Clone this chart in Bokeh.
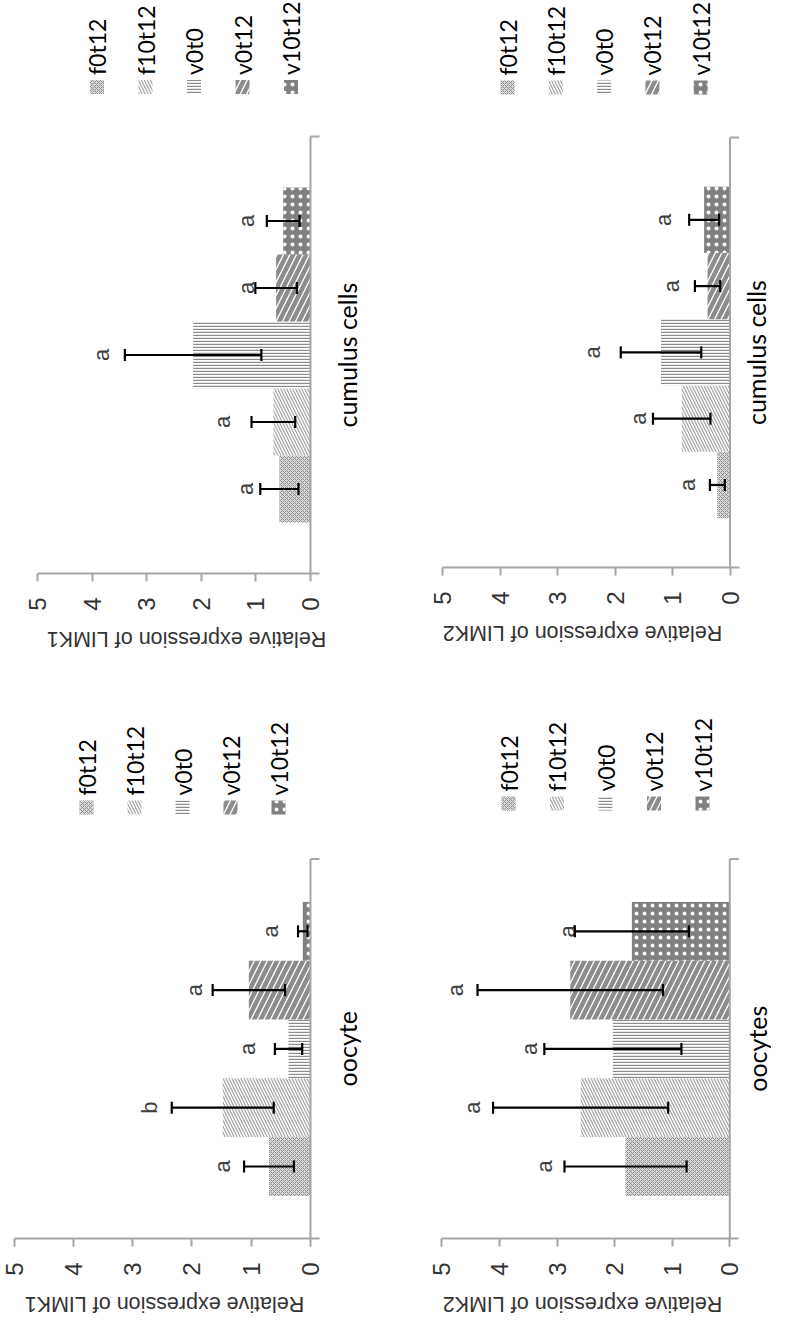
import math
from bokeh.plotting import figure
from bokeh.models import Range1d, FixedTicker, Whisker, TeeHead, ColumnDataSource
from bokeh.layouts import column, row
from bokeh.embed import file_html
from bokeh.resources import INLINE
from bokeh.core.properties import value

# ---------------- data ----------------
categories = ["f0t12", "f10t12", "v0t0", "v0t12", "v10t12"]
value_ticks = [0, 1, 2, 3, 4, 5]

cumulus_limk1_mean = [0.57, 0.68, 2.15, 0.63, 0.50]
cumulus_limk1_err = [0.35, 0.40, 1.25, 0.38, 0.30]
cumulus_limk1_letters = ["a", "a", "a", "a", "a"]
cumulus_limk1_letter_at = [1.19, 1.61, 3.83, 1.17, 1.17]

cumulus_limk2_mean = [0.22, 0.84, 1.20, 0.39, 0.45]
cumulus_limk2_err = [0.13, 0.50, 0.70, 0.22, 0.26]
cumulus_limk2_letters = ["a", "a", "a", "a", "a"]
cumulus_limk2_letter_at = [0.74, 1.60, 2.40, 1.02, 1.15]

oocyte_limk1_mean = [0.70, 1.48, 0.37, 1.04, 0.13]
oocyte_limk1_err = [0.42, 0.86, 0.23, 0.61, 0.08]
oocyte_limk1_letters = ["a", "b", "a", "a", "a"]
oocyte_limk1_letter_at = [1.48, 2.72, 1.06, 1.95, 0.67]

oocytes_limk2_mean = [1.81, 2.59, 2.03, 2.77, 1.70]
oocytes_limk2_err = [1.06, 1.52, 1.19, 1.61, 0.99]
oocytes_limk2_letters = ["a", "a", "a", "a", "a"]
oocytes_limk2_letter_at = [3.21, 4.46, 3.48, 4.76, 2.81]

# ---------------- styles ----------------
styles = [
    dict(fill_color="#d9d9d9", hatch_pattern="diagonal_cross", hatch_color="#8f8f8f",
         hatch_scale=4, hatch_weight=1),
    dict(fill_color="white", hatch_pattern="left_diagonal_line", hatch_color="#a8a8a8",
         hatch_scale=6, hatch_weight=1.3),
    dict(fill_color="white", hatch_pattern="horizontal_line", hatch_color="#8c8c8c",
         hatch_scale=3, hatch_weight=1.4),
    dict(fill_color="white", hatch_pattern="right_diagonal_line", hatch_color="#8c8c8c",
         hatch_scale=13, hatch_weight=4.5),
    dict(fill_color="#808080", hatch_pattern="dot", hatch_color="white",
         hatch_scale=8, hatch_weight=2),
]

AXIS_GRAY = "#a6a6a6"
TEXT_GRAY = "#333333"
AXIS_AREA = 48      # px below the value axis line kept in the chart figure
TITLE_GAP = 65      # px from value axis line to the centre of the axis title

panels = [
    dict(mean=cumulus_limk1_mean, err=cumulus_limk1_err, letters=cumulus_limk1_letters,
         letter_at=cumulus_limk1_letter_at, group="cumulus cells", gene="LIMK1",
         ox=8, oy=8, w=392, h=661, X0=318, ux=54.6, Yc0=496.5, uy=67.0, gap=0.76,
         leg_x0=104.5, leg_dx=48.5, leg_y=94.5, group_x=354.5, title_x=194),
    dict(mean=cumulus_limk2_mean, err=cumulus_limk2_err, letters=cumulus_limk2_letters,
         letter_at=cumulus_limk2_letter_at, group="cumulus cells", gene="LIMK2",
         ox=400, oy=8, w=379, h=661, X0=737.5, ux=57.5, Yc0=492.5, uy=66.3, gap=0.74,
         leg_x0=515, leg_dx=48.3, leg_y=95, group_x=763, title_x=590),
    dict(mean=oocyte_limk1_mean, err=oocyte_limk1_err, letters=oocyte_limk1_letters,
         letter_at=oocyte_limk1_letter_at, group="oocyte", gene="LIMK1",
         ox=8, oy=669, w=392, h=661, X0=318, ux=59.3, Yc0=1174, uy=58.8, gap=0.73,
         leg_x0=94, leg_dx=48, leg_y=815, group_x=354.5, title_x=172),
    dict(mean=oocytes_limk2_mean, err=oocytes_limk2_err, letters=oocytes_limk2_letters,
         letter_at=oocytes_limk2_letter_at, group="oocytes", gene="LIMK2",
         ox=400, oy=669, w=379, h=661, X0=737.3, ux=57.6, Yc0=1174, uy=58.8, gap=0.73,
         leg_x0=516, leg_dx=48.5, leg_y=811, group_x=764, title_x=590),
]


def build(pd):
    ox, oy, W, H = pd["ox"], pd["oy"], pd["w"], pd["h"]
    ux, uy, g = pd["ux"], pd["uy"], pd["gap"]
    X0c = pd["X0"] - ox
    Yc0c = pd["Yc0"] - oy
    F = int(round(Yc0c + (0.5 + g) * uy))     # frame height = canvas y of value axis
    Hm = F + AXIS_AREA                         # chart figure height
    Ht = H - Hm                                # title strip height
    xl = X0c / ux
    xr = (X0c - W) / ux
    yt = Yc0c / uy
    yb = (Yc0c - F) / uy
    ytop = len(categories) - 0.5 + g

    def dx(px):
        return (pd["X0"] - px) / ux

    def dy(py):
        return (pd["Yc0"] - py) / uy

    p = figure(width=W, height=Hm, x_range=Range1d(xl, xr), y_range=Range1d(yb, yt),
               output_backend="svg", toolbar_location=None, title=None,
               y_axis_location=None, x_axis_location="below",
               min_border_left=0, min_border_right=0, min_border_top=0,
               min_border_bottom=AXIS_AREA)
    p.outline_line_color = None
    p.xgrid.visible = False
    p.ygrid.visible = False
    p.background_fill_color = "white"
    p.border_fill_color = "white"

    ys = list(range(len(categories)))
    lo = [m - e for m, e in zip(pd["mean"], pd["err"])]
    hi = [m + e for m, e in zip(pd["mean"], pd["err"])]
    src = ColumnDataSource(dict(cat=categories, y=ys, mean=pd["mean"], lo=lo, hi=hi,
                                letter=pd["letters"], lpos=pd["letter_at"]))

    for i in ys:
        sub = ColumnDataSource(dict(y=[ys[i]], mean=[pd["mean"][i]]))
        p.hbar(y="y", left=0, right="mean", height=1.0, source=sub,
               line_color=None, **styles[i])

    head = dict(size=12, line_width=2.2, line_color="black")
    p.add_layout(Whisker(source=src, base="y", lower="lo", upper="hi", dimension="width",
                         line_color="black", line_width=2.2, level="overlay",
                         upper_head=TeeHead(**head), lower_head=TeeHead(**head)))

    p.text(x="lpos", y="y", text="letter", source=src, angle=math.pi / 2,
           text_align="center", text_baseline="middle",
           text_font=value("Liberation Sans"), text_font_size="22px", text_color="#404040")

    # category axis (vertical line at value 0) with its end tick
    tick_len = 9 / ux
    p.segment(x0=[0], y0=[yb], x1=[0], y1=[ytop], line_color=AXIS_GRAY, line_width=2)
    p.segment(x0=[0], y0=[ytop], x1=[-tick_len], y1=[ytop], line_color=AXIS_GRAY, line_width=2)

    # value axis
    ax = p.xaxis[0]
    ax.ticker = FixedTicker(ticks=value_ticks)
    ax.bounds = (-tick_len, max(value_ticks))
    ax.axis_line_color = AXIS_GRAY
    ax.axis_line_width = 2
    ax.major_tick_line_color = AXIS_GRAY
    ax.major_tick_line_width = 2
    ax.major_tick_out = 8
    ax.major_tick_in = 0
    ax.minor_tick_line_color = None
    ax.major_label_orientation = math.pi / 2
    ax.major_label_standoff = 16
    ax.major_label_text_font = "Liberation Sans"
    ax.major_label_text_font_size = "24px"
    ax.major_label_text_color = TEXT_GRAY

    # group label
    p.text(x=[dx(pd["group_x"])], y=[(yb + ytop) / 2], text=[pd["group"]], angle=math.pi / 2,
           text_align="center", text_baseline="middle",
           text_font=value("Lato"), text_font_size="25px", text_color="black")

    # legend
    for i, cat in enumerate(categories):
        sx = pd["leg_x0"] + i * pd["leg_dx"]
        p.rect(x=[dx(sx)], y=[dy(pd["leg_y"])], width=14, height=14,
               width_units="screen", height_units="screen", line_color=None, **styles[i])
        p.text(x=[dx(sx)], y=[dy(pd["leg_y"] - 12)], text=[cat], angle=math.pi / 2,
               text_align="left", text_baseline="middle",
               text_font=value("Lato"), text_font_size="23px", text_color="black")

    # axis title strip (upside-down title under the value axis)
    t = figure(width=W, height=Ht, x_range=Range1d(xl, xr), y_range=Range1d(0, Ht),
               output_backend="svg", toolbar_location=None, title=None,
               x_axis_location=None, y_axis_location=None,
               min_border_left=0, min_border_right=0, min_border_top=0, min_border_bottom=0)
    t.outline_line_color = None
    t.xgrid.visible = False
    t.ygrid.visible = False
    t.border_fill_color = "white"
    title_y = Ht - (F + TITLE_GAP - Hm)
    t.text(x=[dx(pd["title_x"])], y=[title_y], text=["Relative expression of " + pd["gene"]],
           angle=math.pi, text_align="center", text_baseline="middle",
           text_font=value("Liberation Sans"), text_font_size="21.5px", text_color=TEXT_GRAY)
    return column(p, t)


cols = [build(pd) for pd in panels]
layout = column(row(cols[0], cols[1]), row(cols[2], cols[3]))
open("out.html", "w").write(file_html(layout, INLINE))
